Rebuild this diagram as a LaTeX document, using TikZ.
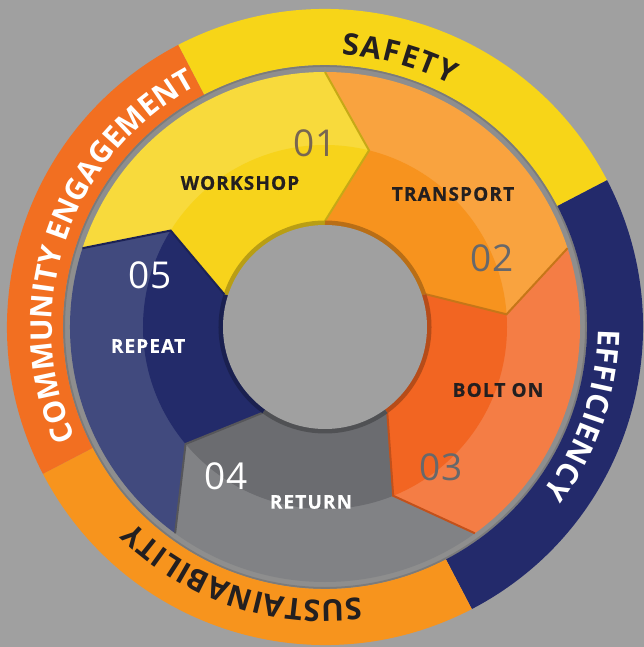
\documentclass[tikz,border=0pt]{standalone}
\usepackage{fontspec}
\setmainfont{Open Sans}
\usetikzlibrary{decorations.text}

\definecolor{bg}{HTML}{A0A0A0}
\definecolor{gapgray}{HTML}{8E8E8E}
\definecolor{gapdark}{HTML}{7B7B7B}
\definecolor{safety}{HTML}{F7D518}
\definecolor{efficiency}{HTML}{232A6B}
\definecolor{sustain}{HTML}{F7941D}
\definecolor{community}{HTML}{F26F21}
\definecolor{onelt}{HTML}{F8DA3C}
\definecolor{onedk}{HTML}{F7D31B}
\definecolor{twolt}{HTML}{F9A33F}
\definecolor{twodk}{HTML}{F7931E}
\definecolor{threelt}{HTML}{F47D45}
\definecolor{threedk}{HTML}{F26522}
\definecolor{fourlt}{HTML}{818285}
\definecolor{fourdk}{HTML}{6B6C70}
\definecolor{fivelt}{HTML}{414A7E}
\definecolor{fivedk}{HTML}{232B6A}
\definecolor{ink}{HTML}{231F20}
\definecolor{numbrown}{HTML}{786650}
\definecolor{numgray}{HTML}{67686B}

\newcommand{\segment}[1]{(#1:255pt) -- ({#1-14}:182pt) -- (#1:106pt)
  arc[start angle=#1, end angle={#1-72}, radius=106pt] -- ({#1-86}:182pt)
  -- ({#1-72}:255pt) arc[start angle={#1-72}, end angle=#1, radius=255pt] -- cycle}
\newcommand{\band}[2]{(#1:262pt) arc[start angle=#1, end angle=#2, radius=262pt]
  -- (#2:318pt) arc[start angle=#2, end angle=#1, radius=318pt] -- cycle}

\tikzset{
  number/.style={font=\fontsize{37}{37}\selectfont, inner sep=0pt},
  label/.style={font=\fontsize{19}{19}\selectfont\bfseries\addfontfeatures{LetterSpace=6,FakeBold=0.6}, inner sep=0pt},
  ringtext/.style 2 args={decorate, decoration={text along path, text align={fit to path},
    text={|\fontsize{30}{30}\selectfont\bfseries\color{#1}|#2}}},
}

\begin{document}
\begin{tikzpicture}[x=1pt,y=1pt]

  \fill[bg] (-325,-320) rectangle (319,327);
  \useasboundingbox (-325,-320) rectangle (319,327);

  \fill[gapgray] (0,0) circle (262pt);
  \draw[gapdark, line width=2pt] (0,0) circle (261pt);
  \fill[safety] \band{117.5}{27.5};
  \fill[efficiency] \band{27.5}{-62.5};
  \fill[sustain] \band{-62.5}{-152.5};
  \fill[community] \band{207.5}{117.5};

  \foreach \s/\lt/\dk in {162/onelt/onedk, 90/twolt/twodk, 18/threelt/threedk,
                         -54/fourlt/fourdk, -126/fivelt/fivedk} {
    \fill[\lt] \segment{\s};
    \begin{scope}
      \clip \segment{\s};
      \fill[\dk] (0,0) circle (182pt);
    \end{scope}
  }

  \foreach \s/\dk in {162/onedk, 90/twodk, 18/threedk, -54/fourdk, -126/fivedk} {
    \draw[\dk!80!black, line width=2pt, line join=miter]
      ({\s-72}:106pt) -- ({\s-86}:182pt) -- ({\s-72}:255pt);
    \draw[\dk!75!black, line width=5pt]
      (\s:104pt) arc[start angle=\s, end angle={\s-72}, radius=104pt];
  }
  \fill[bg] (0,0) circle (102pt);

  \begin{scope}[every node/.style={label}]
    \node[ink]   (workshop)  at (-85,144)  {WORKSHOP};
    \node[ink]   (transport) at (128,133)  {TRANSPORT};
    \node[ink]   (bolton)    at (173,-63)  {BOLT ON};
    \node[white] (return)    at (-14,-175) {RETURN};
    \node[white] (repeat)    at (-177,-19) {REPEAT};
  \end{scope}

  \begin{scope}[every node/.style={number}]
    \node[numbrown] (n01) at (-10,184)  {01};
    \node[numgray]  (n02) at (167,69)   {02};
    \node[numgray]  (n03) at (116,-140) {03};
    \node[white]    (n04) at (-99,-149) {04};
    \node[white]    (n05) at (-175,52)  {05};
  \end{scope}

  \path[ringtext={ink}{SAFETY}]
    (86.5:273pt) arc[start angle=86.5, end angle=62.5, radius=273pt];
  \path[ringtext={white}{EFFICIENCY}]
    (-0.5:273pt) arc[start angle=-0.5, end angle=-37, radius=273pt];
  \path[ringtext={ink}{SUSTAINABILITY}]
    (277.5:273pt) arc[start angle=277.5, end angle=225.5, radius=273pt];
  \path[ringtext={white}{COMMUNITY ENGAGEMENT}]
    (204:273pt) arc[start angle=204, end angle=119, radius=273pt];

\end{tikzpicture}
\end{document}
